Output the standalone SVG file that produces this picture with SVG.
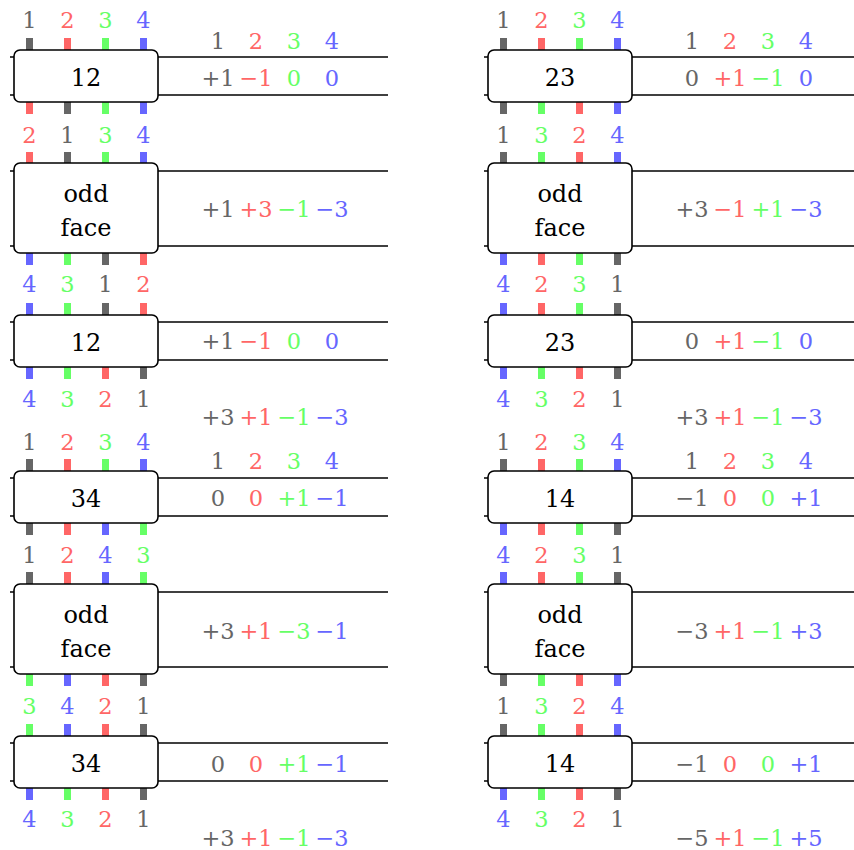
<svg xmlns="http://www.w3.org/2000/svg" width="854" height="850" viewBox="0 0 854 850">
<style>
.k{fill:#666}.r{fill:#ff6666}.e{fill:#66ff66}.b{fill:#6666ff}
.box{fill:#fff;stroke:#000;stroke-width:1.6}
.w{stroke:#000;stroke-width:1.6}
text{text-anchor:middle;font-family:"DejaVu Serif",serif}
.l{font-size:22.5px}.v{font-size:22.5px}.n{font-size:24px;fill:#000}
</style>
<rect width="854" height="850" fill="#fff"/>
<g id="connectors">
<g id="wires-left">
<line class="w" x1="10" y1="57" x2="388" y2="57"/><line class="w" x1="10" y1="95" x2="388" y2="95"/>
<line class="w" x1="10" y1="171" x2="388" y2="171"/><line class="w" x1="10" y1="246" x2="388" y2="246"/>
<line class="w" x1="10" y1="322" x2="388" y2="322"/><line class="w" x1="10" y1="360" x2="388" y2="360"/>
<line class="w" x1="10" y1="478" x2="388" y2="478"/><line class="w" x1="10" y1="516" x2="388" y2="516"/>
<line class="w" x1="10" y1="592" x2="388" y2="592"/><line class="w" x1="10" y1="667" x2="388" y2="667"/>
<line class="w" x1="10" y1="743" x2="388" y2="743"/><line class="w" x1="10" y1="781" x2="388" y2="781"/>
</g>
<g id="wires-right" transform="translate(474 0)">
<line class="w" x1="10" y1="57" x2="388" y2="57"/><line class="w" x1="10" y1="95" x2="388" y2="95"/>
<line class="w" x1="10" y1="171" x2="388" y2="171"/><line class="w" x1="10" y1="246" x2="388" y2="246"/>
<line class="w" x1="10" y1="322" x2="388" y2="322"/><line class="w" x1="10" y1="360" x2="388" y2="360"/>
<line class="w" x1="10" y1="478" x2="388" y2="478"/><line class="w" x1="10" y1="516" x2="388" y2="516"/>
<line class="w" x1="10" y1="592" x2="388" y2="592"/><line class="w" x1="10" y1="667" x2="388" y2="667"/>
<line class="w" x1="10" y1="743" x2="388" y2="743"/><line class="w" x1="10" y1="781" x2="388" y2="781"/>
</g>
</g>

<g id="L1">
<rect class="k" x="26" y="38" width="7" height="12"/><rect class="r" x="64" y="38" width="7" height="12"/><rect class="e" x="102" y="38" width="7" height="12"/><rect class="b" x="140" y="38" width="7" height="12"/>
<rect class="r" x="26" y="102" width="7" height="12"/><rect class="k" x="64" y="102" width="7" height="12"/><rect class="e" x="102" y="102" width="7" height="12"/><rect class="b" x="140" y="102" width="7" height="12"/>
<rect class="box" x="14" y="50" width="144" height="52" rx="6"/>
<text class="n" x="86" y="85.5">12</text>
</g>
<g id="L2">
<rect class="r" x="26" y="152" width="7" height="11"/><rect class="k" x="64" y="152" width="7" height="11"/><rect class="e" x="102" y="152" width="7" height="11"/><rect class="b" x="140" y="152" width="7" height="11"/>
<rect class="b" x="26" y="253" width="7" height="12"/><rect class="e" x="64" y="253" width="7" height="12"/><rect class="k" x="102" y="253" width="7" height="12"/><rect class="r" x="140" y="253" width="7" height="12"/>
<rect class="box" x="14" y="163" width="144" height="90" rx="6"/>
<text class="n" x="86" y="201.5">odd</text><text class="n" x="86" y="235.5">face</text>
</g>
<g id="L3">
<rect class="b" x="26" y="303" width="7" height="12"/><rect class="e" x="64" y="303" width="7" height="12"/><rect class="k" x="102" y="303" width="7" height="12"/><rect class="r" x="140" y="303" width="7" height="12"/>
<rect class="b" x="26" y="367" width="7" height="12"/><rect class="e" x="64" y="367" width="7" height="12"/><rect class="r" x="102" y="367" width="7" height="12"/><rect class="k" x="140" y="367" width="7" height="12"/>
<rect class="box" x="14" y="315" width="144" height="52" rx="6"/>
<text class="n" x="86" y="350.5">12</text>
</g>
<g id="L4">
<rect class="k" x="26" y="459" width="7" height="12"/><rect class="r" x="64" y="459" width="7" height="12"/><rect class="e" x="102" y="459" width="7" height="12"/><rect class="b" x="140" y="459" width="7" height="12"/>
<rect class="k" x="26" y="523" width="7" height="12"/><rect class="r" x="64" y="523" width="7" height="12"/><rect class="b" x="102" y="523" width="7" height="12"/><rect class="e" x="140" y="523" width="7" height="12"/>
<rect class="box" x="14" y="471" width="144" height="52" rx="6"/>
<text class="n" x="86" y="506.5">34</text>
</g>
<g id="L5">
<rect class="k" x="26" y="572" width="7" height="12"/><rect class="r" x="64" y="572" width="7" height="12"/><rect class="b" x="102" y="572" width="7" height="12"/><rect class="e" x="140" y="572" width="7" height="12"/>
<rect class="e" x="26" y="674" width="7" height="12"/><rect class="b" x="64" y="674" width="7" height="12"/><rect class="r" x="102" y="674" width="7" height="12"/><rect class="k" x="140" y="674" width="7" height="12"/>
<rect class="box" x="14" y="584" width="144" height="90" rx="6"/>
<text class="n" x="86" y="622.5">odd</text><text class="n" x="86" y="656.5">face</text>
</g>
<g id="L6">
<rect class="e" x="26" y="724" width="7" height="12"/><rect class="b" x="64" y="724" width="7" height="12"/><rect class="r" x="102" y="724" width="7" height="12"/><rect class="k" x="140" y="724" width="7" height="12"/>
<rect class="b" x="26" y="788" width="7" height="12"/><rect class="e" x="64" y="788" width="7" height="12"/><rect class="r" x="102" y="788" width="7" height="12"/><rect class="k" x="140" y="788" width="7" height="12"/>
<rect class="box" x="14" y="736" width="144" height="52" rx="6"/>
<text class="n" x="86" y="771.5">34</text>
</g>

<g id="R1" transform="translate(474 0)">
<rect class="k" x="26" y="38" width="7" height="12"/><rect class="r" x="64" y="38" width="7" height="12"/><rect class="e" x="102" y="38" width="7" height="12"/><rect class="b" x="140" y="38" width="7" height="12"/>
<rect class="k" x="26" y="102" width="7" height="12"/><rect class="e" x="64" y="102" width="7" height="12"/><rect class="r" x="102" y="102" width="7" height="12"/><rect class="b" x="140" y="102" width="7" height="12"/>
<rect class="box" x="14" y="50" width="144" height="52" rx="6"/>
<text class="n" x="86" y="85.5">23</text>
</g>
<g id="R2" transform="translate(474 0)">
<rect class="k" x="26" y="152" width="7" height="11"/><rect class="e" x="64" y="152" width="7" height="11"/><rect class="r" x="102" y="152" width="7" height="11"/><rect class="b" x="140" y="152" width="7" height="11"/>
<rect class="b" x="26" y="253" width="7" height="12"/><rect class="r" x="64" y="253" width="7" height="12"/><rect class="e" x="102" y="253" width="7" height="12"/><rect class="k" x="140" y="253" width="7" height="12"/>
<rect class="box" x="14" y="163" width="144" height="90" rx="6"/>
<text class="n" x="86" y="201.5">odd</text><text class="n" x="86" y="235.5">face</text>
</g>
<g id="R3" transform="translate(474 0)">
<rect class="b" x="26" y="303" width="7" height="12"/><rect class="r" x="64" y="303" width="7" height="12"/><rect class="e" x="102" y="303" width="7" height="12"/><rect class="k" x="140" y="303" width="7" height="12"/>
<rect class="b" x="26" y="367" width="7" height="12"/><rect class="e" x="64" y="367" width="7" height="12"/><rect class="r" x="102" y="367" width="7" height="12"/><rect class="k" x="140" y="367" width="7" height="12"/>
<rect class="box" x="14" y="315" width="144" height="52" rx="6"/>
<text class="n" x="86" y="350.5">23</text>
</g>
<g id="R4" transform="translate(474 0)">
<rect class="k" x="26" y="459" width="7" height="12"/><rect class="r" x="64" y="459" width="7" height="12"/><rect class="e" x="102" y="459" width="7" height="12"/><rect class="b" x="140" y="459" width="7" height="12"/>
<rect class="b" x="26" y="523" width="7" height="12"/><rect class="r" x="64" y="523" width="7" height="12"/><rect class="e" x="102" y="523" width="7" height="12"/><rect class="k" x="140" y="523" width="7" height="12"/>
<rect class="box" x="14" y="471" width="144" height="52" rx="6"/>
<text class="n" x="86" y="506.5">14</text>
</g>
<g id="R5" transform="translate(474 0)">
<rect class="b" x="26" y="572" width="7" height="12"/><rect class="r" x="64" y="572" width="7" height="12"/><rect class="e" x="102" y="572" width="7" height="12"/><rect class="k" x="140" y="572" width="7" height="12"/>
<rect class="k" x="26" y="674" width="7" height="12"/><rect class="e" x="64" y="674" width="7" height="12"/><rect class="r" x="102" y="674" width="7" height="12"/><rect class="b" x="140" y="674" width="7" height="12"/>
<rect class="box" x="14" y="584" width="144" height="90" rx="6"/>
<text class="n" x="86" y="622.5">odd</text><text class="n" x="86" y="656.5">face</text>
</g>
<g id="R6" transform="translate(474 0)">
<rect class="k" x="26" y="724" width="7" height="12"/><rect class="e" x="64" y="724" width="7" height="12"/><rect class="r" x="102" y="724" width="7" height="12"/><rect class="b" x="140" y="724" width="7" height="12"/>
<rect class="b" x="26" y="788" width="7" height="12"/><rect class="e" x="64" y="788" width="7" height="12"/><rect class="r" x="102" y="788" width="7" height="12"/><rect class="k" x="140" y="788" width="7" height="12"/>
<rect class="box" x="14" y="736" width="144" height="52" rx="6"/>
<text class="n" x="86" y="771.5">14</text>
</g>

<g id="labels-left" class="l">
<text class="k" x="29.5" y="28">1</text><text class="r" x="67.5" y="28">2</text><text class="e" x="105.5" y="28">3</text><text class="b" x="143.5" y="28">4</text>
<text class="r" x="29.5" y="142.5">2</text><text class="k" x="67.5" y="142.5">1</text><text class="e" x="105.5" y="142.5">3</text><text class="b" x="143.5" y="142.5">4</text>
<text class="b" x="29.5" y="291.5">4</text><text class="e" x="67.5" y="291.5">3</text><text class="k" x="105.5" y="291.5">1</text><text class="r" x="143.5" y="291.5">2</text>
<text class="b" x="29.5" y="406.5">4</text><text class="e" x="67.5" y="406.5">3</text><text class="r" x="105.5" y="406.5">2</text><text class="k" x="143.5" y="406.5">1</text>
<text class="k" x="29.5" y="450">1</text><text class="r" x="67.5" y="450">2</text><text class="e" x="105.5" y="450">3</text><text class="b" x="143.5" y="450">4</text>
<text class="k" x="29.5" y="562.5">1</text><text class="r" x="67.5" y="562.5">2</text><text class="b" x="105.5" y="562.5">4</text><text class="e" x="143.5" y="562.5">3</text>
<text class="e" x="29.5" y="713.5">3</text><text class="b" x="67.5" y="713.5">4</text><text class="r" x="105.5" y="713.5">2</text><text class="k" x="143.5" y="713.5">1</text>
<text class="b" x="29.5" y="826.5">4</text><text class="e" x="67.5" y="826.5">3</text><text class="r" x="105.5" y="826.5">2</text><text class="k" x="143.5" y="826.5">1</text>
</g>
<g id="labels-right" class="l" transform="translate(474 0)">
<text class="k" x="29.5" y="28">1</text><text class="r" x="67.5" y="28">2</text><text class="e" x="105.5" y="28">3</text><text class="b" x="143.5" y="28">4</text>
<text class="k" x="29.5" y="142.5">1</text><text class="e" x="67.5" y="142.5">3</text><text class="r" x="105.5" y="142.5">2</text><text class="b" x="143.5" y="142.5">4</text>
<text class="b" x="29.5" y="291.5">4</text><text class="r" x="67.5" y="291.5">2</text><text class="e" x="105.5" y="291.5">3</text><text class="k" x="143.5" y="291.5">1</text>
<text class="b" x="29.5" y="406.5">4</text><text class="e" x="67.5" y="406.5">3</text><text class="r" x="105.5" y="406.5">2</text><text class="k" x="143.5" y="406.5">1</text>
<text class="k" x="29.5" y="450">1</text><text class="r" x="67.5" y="450">2</text><text class="e" x="105.5" y="450">3</text><text class="b" x="143.5" y="450">4</text>
<text class="b" x="29.5" y="562.5">4</text><text class="r" x="67.5" y="562.5">2</text><text class="e" x="105.5" y="562.5">3</text><text class="k" x="143.5" y="562.5">1</text>
<text class="k" x="29.5" y="713.5">1</text><text class="e" x="67.5" y="713.5">3</text><text class="r" x="105.5" y="713.5">2</text><text class="b" x="143.5" y="713.5">4</text>
<text class="b" x="29.5" y="826.5">4</text><text class="e" x="67.5" y="826.5">3</text><text class="r" x="105.5" y="826.5">2</text><text class="k" x="143.5" y="826.5">1</text>
</g>

<g id="values-left" class="v">
<text class="k" x="218" y="49">1</text><text class="r" x="256" y="49">2</text><text class="e" x="294" y="49">3</text><text class="b" x="332" y="49">4</text>
<text class="k" x="218" y="85.5">+1</text><text class="r" x="256" y="85.5">−1</text><text class="e" x="294" y="85.5">0</text><text class="b" x="332" y="85.5">0</text>
<text class="k" x="218" y="216.5">+1</text><text class="r" x="256" y="216.5">+3</text><text class="e" x="294" y="216.5">−1</text><text class="b" x="332" y="216.5">−3</text>
<text class="k" x="218" y="348.5">+1</text><text class="r" x="256" y="348.5">−1</text><text class="e" x="294" y="348.5">0</text><text class="b" x="332" y="348.5">0</text>
<text class="k" x="218" y="424.5">+3</text><text class="r" x="256" y="424.5">+1</text><text class="e" x="294" y="424.5">−1</text><text class="b" x="332" y="424.5">−3</text>
<text class="k" x="218" y="468.5">1</text><text class="r" x="256" y="468.5">2</text><text class="e" x="294" y="468.5">3</text><text class="b" x="332" y="468.5">4</text>
<text class="k" x="218" y="506">0</text><text class="r" x="256" y="506">0</text><text class="e" x="294" y="506">+1</text><text class="b" x="332" y="506">−1</text>
<text class="k" x="218" y="638.5">+3</text><text class="r" x="256" y="638.5">+1</text><text class="e" x="294" y="638.5">−3</text><text class="b" x="332" y="638.5">−1</text>
<text class="k" x="218" y="771.5">0</text><text class="r" x="256" y="771.5">0</text><text class="e" x="294" y="771.5">+1</text><text class="b" x="332" y="771.5">−1</text>
<text class="k" x="218" y="845.5">+3</text><text class="r" x="256" y="845.5">+1</text><text class="e" x="294" y="845.5">−1</text><text class="b" x="332" y="845.5">−3</text>
</g>
<g id="values-right" class="v" transform="translate(474 0)">
<text class="k" x="218" y="49">1</text><text class="r" x="256" y="49">2</text><text class="e" x="294" y="49">3</text><text class="b" x="332" y="49">4</text>
<text class="k" x="218" y="85.5">0</text><text class="r" x="256" y="85.5">+1</text><text class="e" x="294" y="85.5">−1</text><text class="b" x="332" y="85.5">0</text>
<text class="k" x="218" y="216.5">+3</text><text class="r" x="256" y="216.5">−1</text><text class="e" x="294" y="216.5">+1</text><text class="b" x="332" y="216.5">−3</text>
<text class="k" x="218" y="348.5">0</text><text class="r" x="256" y="348.5">+1</text><text class="e" x="294" y="348.5">−1</text><text class="b" x="332" y="348.5">0</text>
<text class="k" x="218" y="424.5">+3</text><text class="r" x="256" y="424.5">+1</text><text class="e" x="294" y="424.5">−1</text><text class="b" x="332" y="424.5">−3</text>
<text class="k" x="218" y="468.5">1</text><text class="r" x="256" y="468.5">2</text><text class="e" x="294" y="468.5">3</text><text class="b" x="332" y="468.5">4</text>
<text class="k" x="218" y="506">−1</text><text class="r" x="256" y="506">0</text><text class="e" x="294" y="506">0</text><text class="b" x="332" y="506">+1</text>
<text class="k" x="218" y="638.5">−3</text><text class="r" x="256" y="638.5">+1</text><text class="e" x="294" y="638.5">−1</text><text class="b" x="332" y="638.5">+3</text>
<text class="k" x="218" y="771.5">−1</text><text class="r" x="256" y="771.5">0</text><text class="e" x="294" y="771.5">0</text><text class="b" x="332" y="771.5">+1</text>
<text class="k" x="218" y="845.5">−5</text><text class="r" x="256" y="845.5">+1</text><text class="e" x="294" y="845.5">−1</text><text class="b" x="332" y="845.5">+5</text>
</g>
</svg>
